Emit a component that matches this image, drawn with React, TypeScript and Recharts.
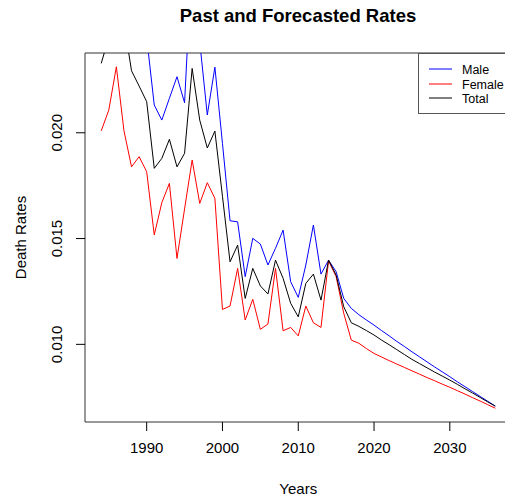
import { LineChart, Line, XAxis, YAxis, Legend, ReferenceLine } from 'recharts';

const years = [
  1984, 1985, 1986, 1987, 1988, 1989, 1990, 1991, 1992, 1993,
  1994, 1995, 1996, 1997, 1998, 1999, 2000, 2001, 2002, 2003,
  2004, 2005, 2006, 2007, 2008, 2009, 2010, 2011, 2012, 2013,
  2014, 2015, 2016, 2017, 2018, 2019, 2020, 2021, 2022, 2023,
  2024, 2025, 2026, 2027, 2028, 2029, 2030, 2031, 2032, 2033,
  2034, 2035, 2036,
];

const maleRates = [
  0.0265, 0.0279, 0.028, 0.029, 0.0275, 0.0256, 0.0245, 0.02131, 0.0206, 0.02163,
  0.02265, 0.02142, 0.0285, 0.0243, 0.02084, 0.0231, 0.0195, 0.01584, 0.01579, 0.0132,
  0.01501, 0.01474, 0.01375, 0.01454, 0.0154, 0.01296, 0.01222, 0.01375, 0.01564, 0.01332,
  0.01398, 0.01343, 0.01217, 0.0117, 0.0114, 0.01115, 0.01091, 0.01065, 0.0104, 0.01014,
  0.0099, 0.00965, 0.00941, 0.00917, 0.00893, 0.0087, 0.00847, 0.00823, 0.008, 0.00777,
  0.00754, 0.00731, 0.00708,
];

const femaleRates = [
  0.02009, 0.02107, 0.02312, 0.0201, 0.01839, 0.01887, 0.01816, 0.01517, 0.0167, 0.01761,
  0.01406, 0.0164, 0.01871, 0.01666, 0.01764, 0.0169, 0.01165, 0.01181, 0.01359, 0.01115,
  0.01213, 0.01071, 0.01096, 0.01359, 0.01064, 0.0108, 0.0104, 0.01181, 0.01102, 0.0108,
  0.01395, 0.0132, 0.01147, 0.0102, 0.01005, 0.0098, 0.00957, 0.0094, 0.00923, 0.00907,
  0.00891, 0.00875, 0.00859, 0.00843, 0.00828, 0.00812, 0.00797, 0.00781, 0.00765, 0.00748,
  0.00732, 0.00715, 0.00698,
];

const totalRates = [
  0.02328, 0.0245, 0.0255, 0.0252, 0.02293, 0.02221, 0.02147, 0.01832, 0.01879, 0.01969,
  0.01839, 0.01903, 0.02304, 0.0206, 0.01928, 0.02008, 0.017, 0.0139, 0.01469, 0.01217,
  0.01359, 0.01276, 0.01238, 0.01398, 0.01312, 0.01194, 0.0113, 0.01288, 0.01332, 0.01209,
  0.01398, 0.01327, 0.01178, 0.01102, 0.01085, 0.01065, 0.01044, 0.0102, 0.00998, 0.00975,
  0.00952, 0.00929, 0.00909, 0.00889, 0.00869, 0.0085, 0.00831, 0.00811, 0.0079, 0.0077,
  0.00749, 0.00728, 0.00708,
];

const yearTicks = [1990, 2000, 2010, 2020, 2030];
const rateTicks = [0.01, 0.015, 0.02];

const seriesNames = ['Male', 'Female', 'Total'];
const seriesColors = ['#0000ff', '#ff0000', '#000000'];

const data = years.map((year, i) => ({
  year,
  male: maleRates[i],
  female: femaleRates[i],
  total: totalRates[i],
}));

const FONT = '"Liberation Sans", Arial, sans-serif';
const Y_MIN = 0.00633;
const Y_MAX = 0.02377;

const XTick = (props: any) => {
  const { x, y, payload } = props;
  return (
    <text x={x} y={y + 20} textAnchor="middle" fontSize={15} fontFamily={FONT} fill="#000">
      {payload.value}
    </text>
  );
};

const YTick = (props: any) => {
  const { x, y, payload } = props;
  const bx = x - 11.5;
  return (
    <text
      x={bx}
      y={y}
      transform={`rotate(-90 ${bx} ${y})`}
      textAnchor="middle"
      fontSize={15}
      fontFamily={FONT}
      fill="#000"
    >
      {Number(payload.value).toFixed(3)}
    </text>
  );
};

// legend drawn like R's legend(): box, short line sample, label
const LegendBox = () => (
  <svg width={94} height={61} style={{ display: 'block' }}>
    <rect x={0.5} y={0.5} width={93} height={60} fill="#fff" stroke="#555" />
    {seriesNames.map((name, i) => {
      const cy = Math.round(16 + i * 14.5);
      return (
        <g key={name}>
          <line x1={11} x2={34} y1={cy} y2={cy} stroke={seriesColors[i]} strokeWidth={1} />
          <text x={44} y={cy + 5} fontSize={12.5} fontFamily={FONT} fill="#000">
            {name}
          </text>
        </g>
      );
    })}
  </svg>
);

export default function App() {
  return (
    <div style={{ position: 'absolute', left: 0, top: 0, width: 505, height: 498, overflow: 'hidden', background: '#fff' }}>
      <div
        style={{
          position: 'absolute',
          left: 0,
          width: 596,
          top: 5,
          textAlign: 'center',
          fontFamily: FONT,
          fontWeight: 'bold',
          fontSize: 18.5,
          color: '#000',
        }}
      >
        Past and Forecasted Rates
      </div>
      <LineChart
        width={512}
        height={498}
        data={data}
        margin={{ top: 53, right: 0.5, left: 25, bottom: 46 }}
        style={{ position: 'absolute', left: 0, top: 0 }}
      >
        <XAxis
          dataKey="year"
          type="number"
          domain={[1981.86, 2038.14]}
          ticks={yearTicks}
          allowDataOverflow
          height={30}
          tickSize={9}
          stroke="#333"
          tickLine={{ stroke: '#000' }}
          tick={<XTick />}
          label={{
            content: (p: any) => {
              const vb = p.viewBox || { x: 85, y: 422, width: 426.5 };
              return (
                <text x={vb.x + vb.width / 2} y={vb.y + 71.5} textAnchor="middle" fontSize={15} fontFamily={FONT} fill="#000">
                  Years
                </text>
              );
            },
          }}
        />
        <YAxis
          type="number"
          domain={[Y_MIN, Y_MAX]}
          ticks={rateTicks}
          allowDataOverflow
          width={60}
          tickSize={9}
          stroke="#333"
          tickLine={{ stroke: '#000' }}
          tick={<YTick />}
          label={{
            content: (p: any) => {
              const vb = p.viewBox || { x: 25, y: 53, height: 369 };
              const lx = vb.x + 0.5;
              const ly = vb.y + vb.height / 2;
              return (
                <text
                  x={lx}
                  y={ly}
                  transform={`rotate(-90 ${lx} ${ly})`}
                  textAnchor="middle"
                  fontSize={15}
                  fontFamily={FONT}
                  fill="#000"
                >
                  Death Rates
                </text>
              );
            },
          }}
        />
        <ReferenceLine y={Y_MAX} stroke="#333" ifOverflow="visible" />
        <Legend
          layout="vertical"
          align="center"
          verticalAlign="middle"
          content={<LegendBox />}
          wrapperStyle={{ position: 'absolute', left: 418, top: 53, width: 94, height: 61 }}
        />
        <Line type="linear" dataKey="male" name="Male" stroke={seriesColors[0]} strokeWidth={1} dot={false} isAnimationActive={false} />
        <Line type="linear" dataKey="female" name="Female" stroke={seriesColors[1]} strokeWidth={1} dot={false} isAnimationActive={false} />
        <Line type="linear" dataKey="total" name="Total" stroke={seriesColors[2]} strokeWidth={1} dot={false} isAnimationActive={false} />
      </LineChart>
    </div>
  );
}
